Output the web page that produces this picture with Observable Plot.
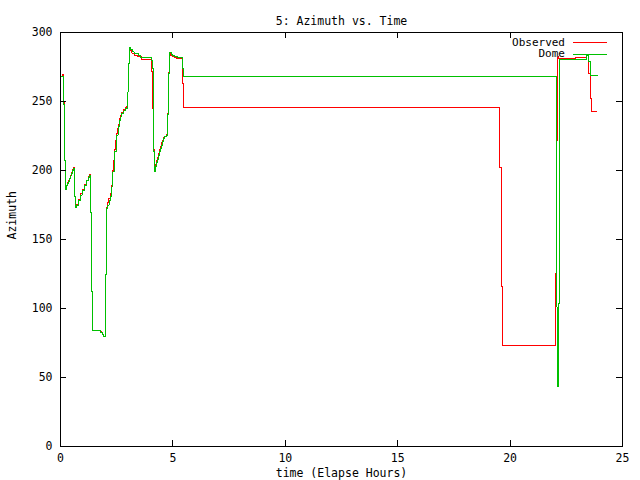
<!DOCTYPE html>
<html><head><meta charset="utf-8">
<script src="https://cdn.jsdelivr.net/npm/d3@7"></script>
<script src="https://cdn.jsdelivr.net/npm/@observablehq/plot@0.6"></script>
<style>
body{margin:0;background:#fff;}
#chart{width:640px;height:480px;}
</style></head><body><div id="chart"></div>
<script>
const titleText = "5: Azimuth vs. Time";
const xLabel = "time (Elapse Hours)";
const yLabel = "Azimuth";
const xTicks = [0, 5, 10, 15, 20, 25];
const yTicks = [0, 50, 100, 150, 200, 250, 300];
const seriesNames = ["Observed", "Dome"];
const seriesColors = ["#ff0000", "#00c000"];

const obsTime = [0, 0.10, 0.13, 0.17, 0.21, 0.25, 0.29, 0.34, 0.38, 0.43, 0.47, 0.52, 0.56, 0.61, 0.66, 0.69, 0.78, 0.87, 0.96, 1.05, 1.14, 1.23, 1.30, 1.326, 1.37, 1.415, 1.78, 1.85, 1.92, 1.99, 2.03, 2.09, 2.15, 2.21, 2.28, 2.32, 2.37, 2.41, 2.46, 2.50, 2.55, 2.59, 2.63, 2.68, 2.72, 2.81, 2.90, 2.95, 3.00, 3.03, 3.07, 3.11, 3.18, 3.30, 3.42, 3.60, 4.05, 4.10, 4.13, 4.18, 4.22, 4.26, 4.31, 4.35, 4.40, 4.44, 4.49, 4.53, 4.58, 4.63, 4.72, 4.76, 4.80, 4.85, 4.90, 4.97, 5.06, 5.15, 5.43, 5.47, 19.55, 19.60, 19.64, 22.04, 22.08, 22.12, 22.16, 22.91, 23.40, 23.50, 23.58, 23.62, 23.87];
const obsAz = [268.3, 269.6, 249, 207, 186.5, 189, 191, 192.5, 194.5, 196.5, 198.5, 200.5, 202, 181, 173.2, 175.5, 179, 183, 186.5, 189.5, 193, 195.5, 197, 169.3, 112.5, 84, 83, 81.5, 80, 124.9, 173.5, 176.5, 179.5, 183, 189, 200, 207.5, 215, 222, 227, 230.5, 233.5, 237.5, 240, 242, 244, 245.5, 246.5, 257, 277.5, 288.5, 287, 285, 283.5, 282.5, 280.4, 272, 245, 215, 200.5, 204, 207, 209.5, 212.5, 215, 217.5, 220, 222, 224, 225, 226, 241.5, 271, 285.2, 283.5, 282.5, 281.8, 281.2, 263, 245.6, 202.2, 116.2, 73.1, 125.4, 222, 282.3, 281.1, 282, 283.5, 270.3, 252.2, 243, 243];

const domeTime = [0, 0.13, 0.17, 0.21, 0.26, 0.30, 0.35, 0.39, 0.44, 0.48, 0.53, 0.57, 0.615, 0.66, 0.70, 0.79, 0.88, 0.97, 1.06, 1.15, 1.24, 1.30, 1.326, 1.37, 1.415, 1.80, 1.87, 1.93, 1.99, 2.03, 2.10, 2.16, 2.22, 2.29, 2.33, 2.38, 2.42, 2.47, 2.51, 2.56, 2.60, 2.64, 2.69, 2.73, 2.82, 2.91, 2.96, 3.00, 3.03, 3.07, 3.13, 3.20, 3.28, 3.46, 3.55, 4.05, 4.10, 4.14, 4.185, 4.23, 4.27, 4.32, 4.36, 4.41, 4.45, 4.50, 4.54, 4.59, 4.63, 4.72, 4.76, 4.81, 4.85, 4.94, 4.99, 5.06, 5.20, 5.43, 5.47, 22.08, 22.12, 22.17, 22.21, 23.40, 23.50, 23.58, 23.87];
const domeAz = [268.3, 247.8, 207.5, 186.2, 188.8, 190.5, 192, 194, 196, 197.8, 199.8, 201.4, 180.9, 173.2, 174.9, 178.5, 182.2, 185.8, 189, 192.4, 195, 196.7, 169.3, 112.5, 83.8, 82.5, 81, 79.5, 124.9, 172.4, 175, 178.2, 181, 188.1, 199, 206.2, 213.8, 220.5, 225.6, 229.2, 232, 236.4, 238.9, 241.3, 243.2, 244.9, 246, 257, 277.5, 289.1, 287.8, 285.9, 285, 283.2, 282, 279.6, 273.9, 213.5, 199, 202.6, 205.5, 207.9, 211, 213.5, 215.9, 218.3, 220.7, 223.2, 224.4, 225.6, 240.6, 270.3, 285.2, 284.2, 283.5, 282.8, 282, 273.9, 267.8, 101, 43.2, 103.6, 280.4, 283, 278.7, 269, 269];

const observed = obsTime.map((t, i) => ({t, az: obsAz[i]}));
const dome = domeTime.map((t, i) => ({t, az: domeAz[i]}));

const W = 640, H = 480, MT = 32, MB = 34, ML = 60, MR = 18;
const PW = W - ML - MR, PH = H - MT - MB, TL = 6;
const font = "DejaVu Sans Mono";
const FS = 11.5;

const chart = Plot.plot({
  width: W, height: H,
  marginTop: MT, marginBottom: MB, marginLeft: ML, marginRight: MR,
  style: {fontFamily: font, fontSize: FS + "px", background: "white", color: "black"},
  x: {domain: [0, 25]},
  y: {domain: [0, 300]},
  marks: [
    Plot.line(observed, {x: "t", y: "az", stroke: seriesColors[0], curve: "step-after", strokeWidth: 1, shapeRendering: "crispEdges"}),
    Plot.line(dome, {x: "t", y: "az", stroke: seriesColors[1], curve: "step-after", strokeWidth: 1, shapeRendering: "crispEdges"}),
    Plot.frame({stroke: "black", shapeRendering: "crispEdges"}),
    Plot.axisX(xTicks, {tickSize: 0, tickPadding: 7, label: null, fontSize: FS}),
    Plot.axisY(yTicks, {tickSize: 0, tickPadding: 8, label: null, fontSize: FS}),
    Plot.tickX(xTicks, {x: d => d, insetTop: PH - TL, stroke: "black", shapeRendering: "crispEdges"}),
    Plot.tickX(xTicks, {x: d => d, insetBottom: PH - TL, stroke: "black", shapeRendering: "crispEdges"}),
    Plot.tickY(yTicks, {y: d => d, insetRight: PW - TL, stroke: "black", shapeRendering: "crispEdges"}),
    Plot.tickY(yTicks, {y: d => d, insetLeft: PW - TL, stroke: "black", shapeRendering: "crispEdges"}),
    Plot.text([titleText], {text: d => d, frameAnchor: "top", dy: -16, fontSize: FS}),
    Plot.text([xLabel], {text: d => d, frameAnchor: "bottom", dy: 30, fontSize: FS}),
    Plot.text([yLabel], {text: d => d, frameAnchor: "left", dx: -48, rotate: -90, fontSize: FS})
  ]
});
document.getElementById("chart").appendChild(chart);

// legend (top-right, inside the frame, gnuplot style)
const svg = d3.select(chart);
const lg = svg.append("g").attr("font-family", font).attr("font-size", 11);
seriesNames.forEach((name, i) => {
  const y = 42 + i * 11.5;
  lg.append("text").attr("x", 565).attr("y", y).attr("dy", "0.35em")
    .attr("text-anchor", "end").attr("fill", "black").text(name);
  lg.append("line").attr("x1", 573).attr("x2", 607).attr("y1", Math.round(y) + 0.5).attr("y2", Math.round(y) + 0.5)
    .attr("stroke", seriesColors[i]).attr("stroke-width", 1).attr("shape-rendering", "crispEdges");
});
</script>
</body></html>
